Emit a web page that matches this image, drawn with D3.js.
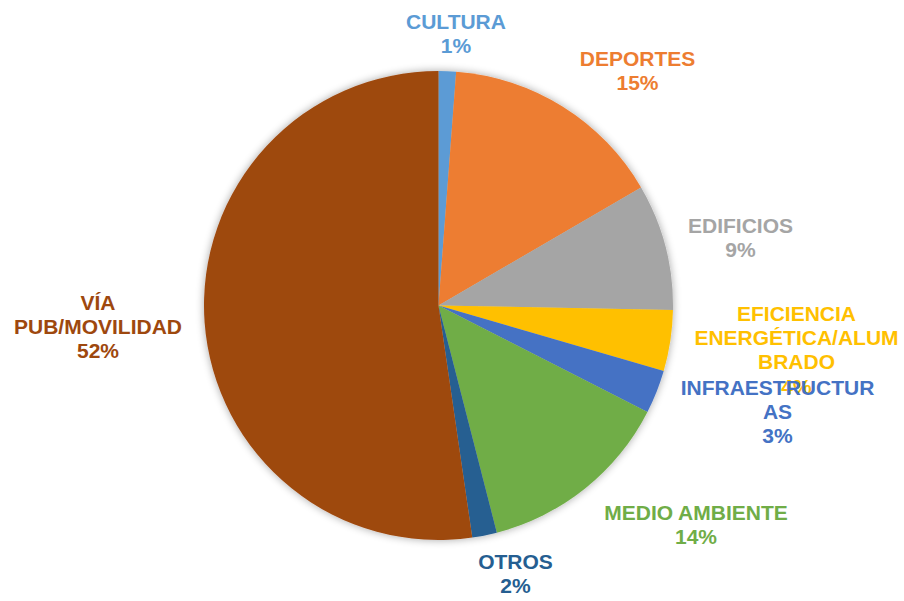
<!DOCTYPE html>
<html>
<head>
<meta charset="utf-8">
<script src="https://cdn.jsdelivr.net/npm/d3@7/dist/d3.min.js"></script>
<style>
  html, body { margin: 0; padding: 0; background: #ffffff; }
  svg { display: block; }
  text { font-family: "Liberation Sans", Arial, sans-serif; font-weight: bold; }
</style>
</head>
<body>
<script>
// ---- data ----
const categories = ["CULTURA", "DEPORTES", "EDIFICIOS", "EFICIENCIA ENERGÉTICA/ALUMBRADO",
                    "INFRAESTRUCTURAS", "MEDIO AMBIENTE", "OTROS", "VÍA PUB/MOVILIDAD"];
const values = [1.2, 15.4, 8.7, 4.2, 3.0, 13.5, 1.7, 52.3];
const labelLines = [
  ["CULTURA"],
  ["DEPORTES"],
  ["EDIFICIOS"],
  ["EFICIENCIA", "ENERGÉTICA/ALUM", "BRADO"],
  ["INFRAESTRUCTUR", "AS"],
  ["MEDIO AMBIENTE"],
  ["OTROS"],
  ["VÍA", "PUB/MOVILIDAD"]
];
const colors = ["#5B9BD5", "#ED7D31", "#A5A5A5", "#FFC000", "#4472C4", "#70AD47", "#255E91", "#9E480E"];

// ---- layout (label anchor: centre x, first baseline y) ----
const labelLayout = [
  {x: 456, y: 28.5},
  {x: 637.5, y: 65.5},
  {x: 740.5, y: 233},
  {x: 796.5, y: 321},
  {x: 777.5, y: 395},
  {x: 696, y: 520},
  {x: 515.5, y: 569},
  {x: 98, y: 310}
];

const W = 904, H = 601;
const cx = 438.5, cy = 305.5, R = 234.5;
const lineH = 24.2;

const svg = d3.select("body").append("svg").attr("width", W).attr("height", H);

const defs = svg.append("defs");
const f = defs.append("filter").attr("id", "shadow")
  .attr("x", "-20%").attr("y", "-20%").attr("width", "140%").attr("height", "140%");
f.append("feGaussianBlur").attr("in", "SourceAlpha").attr("stdDeviation", 4).attr("result", "blur");
f.append("feOffset").attr("in", "blur").attr("dx", 0).attr("dy", 0).attr("result", "off");
f.append("feComponentTransfer").attr("in", "off").attr("result", "soft")
  .append("feFuncA").attr("type", "linear").attr("slope", 0.35);
const merge = f.append("feMerge");
merge.append("feMergeNode").attr("in", "soft");
merge.append("feMergeNode").attr("in", "SourceGraphic");

const data = categories.map((c, i) => ({cat: c, value: values[i], i}));
const total = d3.sum(values);

const pie = d3.pie().value(d => d.value).sort(null);
const arc = d3.arc().innerRadius(0).outerRadius(R);

const g = svg.append("g").attr("transform", `translate(${cx},${cy})`).attr("filter", "url(#shadow)");
g.selectAll("path").data(pie(data)).join("path")
  .attr("d", arc)
  .attr("fill", d => colors[d.data.i]);

const labels = svg.append("g");
data.forEach((d, i) => {
  const lines = labelLines[i].concat([Math.round(d.value / total * 100) + "%"]);
  const t = labels.append("text")
    .attr("text-anchor", "middle")
    .attr("font-size", "21px")
    .attr("fill", colors[i]);
  lines.forEach((ln, k) => {
    t.append("tspan").attr("x", labelLayout[i].x).attr("y", labelLayout[i].y + k * lineH).text(ln);
  });
});
</script>
</body>
</html>
